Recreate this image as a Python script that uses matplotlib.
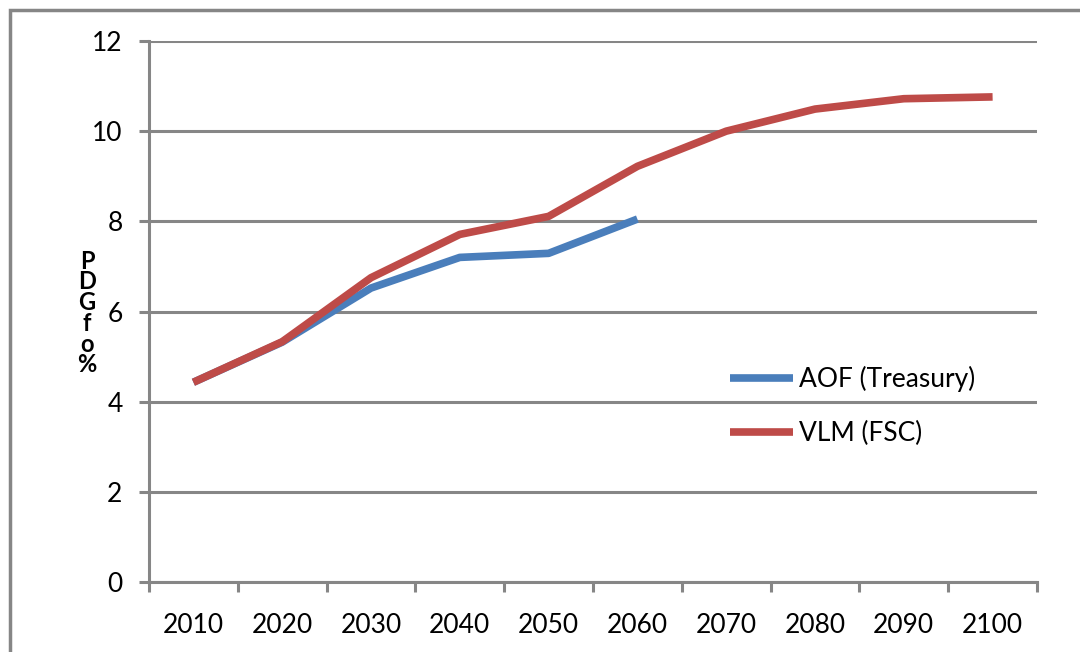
import matplotlib
matplotlib.use("Agg")
import matplotlib.pyplot as plt
from matplotlib.patches import Rectangle
import numpy as np

years = ["2010", "2020", "2030", "2040", "2050", "2060", "2070", "2080", "2090", "2100"]
aof_treasury = [4.43, 5.32, 6.52, 7.2, 7.29, 8.05]
vlm_fsc = [4.43, 5.33, 6.75, 7.71, 8.11, 9.22, 10.0, 10.49, 10.72, 10.76]
y_ticks = [0, 2, 4, 6, 8, 10, 12]

BLUE = "#4A7EBB"
RED = "#BE4B48"
GRID = "#868686"

plt.rcParams["font.family"] = ["Lato", "DejaVu Sans"]

W, H = 1080, 652
fig = plt.figure(figsize=(W / 100, H / 100), dpi=100)
ax = fig.add_axes([149 / W, 1 - 582 / H, (1037 - 149) / W, (582 - 41) / H])

x = np.arange(len(years))
ax.plot(x[:len(aof_treasury)], aof_treasury, color=BLUE, lw=5.5,
        solid_capstyle="butt", solid_joinstyle="round", label="AOF (Treasury)", zorder=3)
ax.plot(x, vlm_fsc, color=RED, lw=5.5,
        solid_capstyle="butt", solid_joinstyle="round", label="VLM (FSC)", zorder=4)

ax.set_xlim(-0.5, len(years) - 0.5)
ax.set_ylim(0, 12)

# y axis: gridlines with outward tick marks
ax.set_yticks(y_ticks)
ax.set_yticklabels([str(v) for v in y_ticks])
ax.yaxis.grid(True, color=GRID, lw=2.2)
ax.tick_params(axis="y", length=7, width=2.2, color=GRID, pad=12, labelsize=19)

# x axis: labels at categories, tick marks between categories
ax.set_xticks(x)
ax.set_xticklabels(years)
ax.tick_params(axis="x", which="major", length=0, pad=22, labelsize=19)
ax.set_xticks(np.arange(len(years) + 1) - 0.5, minor=True)
ax.tick_params(axis="x", which="minor", length=7, width=2.2, color=GRID, direction="out")

for side in ["top", "right"]:
    ax.spines[side].set_visible(False)
for side in ["left", "bottom"]:
    ax.spines[side].set_color(GRID)
    ax.spines[side].set_linewidth(2.2)
ax.set_axisbelow(True)

# stacked vertical axis title (letters upright, read bottom to top)
fig.text(87 / W, 1 - 313 / H, "P\nD\nG\nf\no\n%", ha="center", va="center",
         multialignment="center", fontsize=17, fontweight="bold", linespacing=0.88)

leg = ax.legend(loc="upper left", bbox_to_anchor=(730 / W, 1 - 366 / H),
                bbox_transform=fig.transFigure, frameon=False, fontsize=19,
                handlelength=2.4, handletextpad=0.2, labelspacing=1.1,
                borderpad=0, borderaxespad=0)

# outer chart-area border
fig.add_artist(Rectangle((9.5 / W, -0.5), 2, 0.5 + 1 - 9.5 / H, transform=fig.transFigure,
                         fill=False, edgecolor=GRID, lw=2.5))

fig.savefig("out.png", dpi=100)
